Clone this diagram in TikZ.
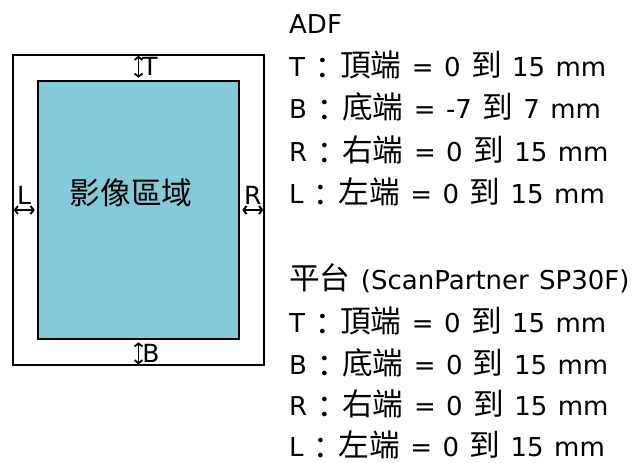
\documentclass[tikz,border=0pt]{standalone}
\usepackage{fontspec}
\setmainfont{DejaVu Sans}[WordSpace=1.26]
\newfontfamily\zhfont{Noto Sans CJK TC}[Scale=1.18]
\usetikzlibrary{arrows.meta,positioning}
\definecolor{areablue}{RGB}{131,203,217}
\newcommand{\zh}[1]{{\zhfont #1}}
\newcommand{\zc}{\makebox[35pt]{\smash{\raisebox{-3pt}{\zh{：}}}}}

\begin{document}
\begin{tikzpicture}[x=1pt,y=-1pt,
  arr/.style={{Straight Barb[length=3pt,width=8pt,line width=1.9pt]}-{Straight Barb[length=3pt,width=8pt,line width=1.9pt]},line width=1.9pt,shorten <=2pt,shorten >=2pt},
  frame/.style={draw,line width=2.6pt,inner sep=0pt},
  lbl/.style={font=\fontsize{25}{25}\selectfont,inner sep=3pt},
  txt/.style={anchor=base west,font=\fontsize{26}{26}\selectfont,inner sep=0pt}
]
  \useasboundingbox (0,0) rectangle (637,463);

  % page and image area
  \node[frame,minimum width=251pt,minimum height=310pt] (page) at (138.5,210) {};
  \node[frame,fill=areablue,minimum width=201pt,minimum height=258pt] (area) at (138.5,210) {};
  \node[font=\fontsize{26}{26}\selectfont] (title) at (131,193) {\zh{影像區域}};

  % margins
  \draw[arr] (area.north) -- node[lbl,right] (t) {T} (page.north);
  \draw[arr] (area.south) -- node[lbl,right] (b) {B} (page.south);
  \draw[arr] (page.west)  -- node[lbl,above=2pt] (l) {L} (area.west);
  \draw[arr] (area.east)  -- node[lbl,above=2pt] (r) {R} (page.east);

  % ADF
  \node[txt] (adf)  at (289,33)  {ADF};
  \node[txt] (adft) at (289,76)  {T\zc\zh{頂端} = 0 \zh{到} 15 mm};
  \node[txt] (adfb) at (289,118) {B\zc\zh{底端} = -7 \zh{到} 7 mm};
  \node[txt] (adfr) at (289,161) {R\zc\zh{右端} = 0 \zh{到} 15 mm};
  \node[txt] (adfl) at (289,203) {L\zc\zh{左端} = 0 \zh{到} 15 mm};

  % flatbed
  \node[txt] (fb)  at (289,289) {\zh{平台} (ScanPartner SP30F)};
  \node[txt] (fbt) at (289,332) {T\zc\zh{頂端} = 0 \zh{到} 15 mm};
  \node[txt] (fbb) at (289,374) {B\zc\zh{底端} = 0 \zh{到} 15 mm};
  \node[txt] (fbr) at (289,415) {R\zc\zh{右端} = 0 \zh{到} 15 mm};
  \node[txt] (fbl) at (289,456) {L\zc\zh{左端} = 0 \zh{到} 15 mm};
\end{tikzpicture}
\end{document}
